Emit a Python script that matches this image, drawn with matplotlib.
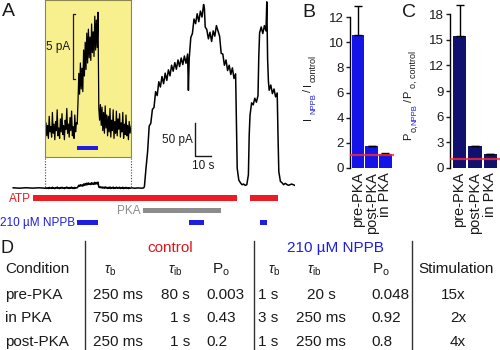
import matplotlib
matplotlib.use('Agg')
import matplotlib.pyplot as plt
import matplotlib.transforms as mtransforms
from matplotlib.patches import Rectangle

plt.rcParams['font.family'] = ['Liberation Sans', 'DejaVu Sans']
plt.rcParams['mathtext.fontset'] = 'custom'
plt.rcParams['mathtext.rm'] = 'Liberation Sans'
plt.rcParams['mathtext.it'] = 'Liberation Sans:italic'
plt.rcParams['mathtext.bf'] = 'Liberation Sans:bold'

# ---------------- data ----------------
# current trace: time (s) and current (pA)
trace_t = [2, 6, 10, 14, 18, 21,
           22.0, 22.5, 23.0, 23.5, 24.0, 24.5, 25.0, 25.5, 26.0, 26.5,
           27.0, 27.5, 28.0, 28.5, 29.0, 29.5, 30.0, 30.5, 31.0, 31.5,
           32.0, 32.5, 33.0, 33.5, 34.0, 34.5, 35.0, 35.5, 36.0, 36.5,
           37.0, 37.5, 38.0, 38.5, 39.0, 39.5, 40.0, 40.5, 41.0, 41.5,
           42.0, 42.5, 43.0, 43.5, 44.0, 44.5, 45.0, 45.5, 46.0, 46.5,
           47.0, 47.5, 48.0, 48.5, 49.0, 49.5, 50.0, 50.5, 51.0, 51.5,
           52.0, 52.5, 53.0, 53.5, 54.0, 54.5, 55.0, 55.5,
           56.0, 56.5, 57.0, 57.5, 58.0, 58.5, 59.0, 59.5, 60.0, 60.5,
           61.0, 61.5, 62.0, 62.5, 63.0, 63.5, 64.0, 64.5, 65.0, 65.5,
           66.0, 66.5, 67.0, 67.5, 68.0, 68.5, 69.0, 69.5, 70.0, 70.5,
           71.0, 71.5, 72.0, 72.5, 73.0, 73.5, 74.0, 74.5, 75.0,
           76, 78, 80, 82, 83.5,
           84, 85, 86, 87, 88, 89, 90, 91, 92, 93, 94, 95, 96, 97, 98, 99,
           100, 101, 102, 103, 104, 105, 106, 107, 108, 109, 110, 111, 111.5,
           112, 113, 114, 115, 116, 117, 118, 119, 120, 121, 121.5,
           122, 123, 124, 125, 126, 127, 128, 129, 130, 131, 132, 133, 134,
           135, 136, 137, 138, 139, 140, 141, 141.5, 142, 143, 144, 145, 146,
           147, 148, 149, 149.5, 150, 151, 152, 153, 154, 155, 155.5,
           156, 157, 158, 159, 160, 160.5, 161, 161.5, 162, 163, 164, 165,
           166, 167, 167.5, 168, 169, 170, 171, 172, 174, 176, 178]
trace_i = [0.3, -0.3, 0.4, -0.2, 0.3, -0.1,
           -0.5, 0.4, -0.6, 0.2, -0.8, 0.9, -0.3, 0.1, -0.7, 1.2,
           -0.4, 0.3, -0.9, 0.5, -0.2, 1.4, -0.6, 0.0, -0.8, 0.7,
           -0.3, 1.1, -0.5, 0.2, -0.9, 0.6, -0.1, 1.5, -0.4, 0.3,
           -0.7, 0.8, -0.2, 1.3, -0.6, 0.1, -0.8, 1.0, -0.3, 0.4,
           0.3, 2.0, 4.2, 2.6, 5.0, 3.0, 4.6, 2.8, 6.0, 4.0,
           6.6, 4.5, 7.3, 5.0, 7.6, 5.4, 7.0, 5.2, 8.0, 5.8,
           7.4, 5.5, 8.6, 6.0, 8.3, 6.2, 8.9, 1.5,
           0.6, 1.8, 0.2, 1.6, -0.2, 1.2, -0.4, 1.7, 0.0, 1.0,
           -0.6, 0.9, -0.3, 1.5, -0.7, 0.6, -0.2, 1.4, -0.8, 0.5,
           -0.4, 1.3, -0.6, 0.7, -0.1, 1.1, -0.7, 0.4, -0.3, 1.2,
           -0.8, 0.3, -0.5, 1.0, -0.6, 0.2, -0.9, 0.5, -0.4,
           0.3, -0.4, 0.2, -0.3, 0.1,
           2, 30, 55, 94, 98, 119, 122, 146, 140, 161, 153, 169, 158, 174, 163, 179,
           170, 186, 177, 190, 180, 194, 184, 197, 187, 200, 189, 203, 148,
           196, 228, 234, 256, 249, 264, 252, 268, 259, 278, 272,
           244, 240, 226, 236, 222, 238, 230, 246, 238, 230, 204, 203, 186,
           194, 178, 186, 172, 182, 166, 173, 100, 30, 12, 8, 5, 6,
           4, 5, 20, 80, 110, 129, 126, 136, 130, 140, 200,
           235, 244, 234, 246, 238, 282, 196, 162, 148, 156, 143, 150,
           138, 144, 80, 25, 10, 8, 5, 7, 4, 6, 4]

# application protocol (s)
atp_on, atp_off = [14.4, 150.0], [141.9, 167.5]
pka_on, pka_off = [83.1], [131.9]
nppb_on, nppb_off = [41.9, 111.9, 156.25], [55.0, 121.25, 160.6]

# bar charts
groups = ['pre-PKA', 'post-PKA', 'in PKA']
i_ratio = [10.6, 1.7, 1.1]
i_err = [2.3, 0.07, 0.04]
po_ratio = [15.5, 2.5, 1.6]
po_err = [3.6, 0.1, 0.06]

# table
conditions = ['pre-PKA', 'in PKA', 'post-PKA']
tau_b_control = ['250 ms', '750 ms', '250 ms']
tau_ib_control = ['80 s', '1 s', '1 s']
po_control = ['0.003', '0.43', '0.2']
tau_b_nppb = ['1 s', '3 s', '1 s']
tau_ib_nppb = ['20 s', '250 ms', '250 ms']
po_nppb = ['0.048', '0.92', '0.8']
stimulation = ['15x', '2x', '4x']

# ---------------- styling ----------------
RED = '#ec1c24'
BLUE = '#1e1ee0'
GRAY = '#8c8c8c'
BAR_B = '#1414e8'
BAR_C = '#10106e'
LINE_RED = '#ff2a2a'
TXT = '#1a1a1a'
W, H = 500, 350

fig = plt.figure(figsize=(5, 3.5), dpi=100)


def box(x0, y0, x1, y1):
    return [x0 / W, 1 - y1 / H, (x1 - x0) / W, (y1 - y0) / H]


# overlay in pixel coordinates
ov = fig.add_axes([0, 0, 1, 1])
ov.set_xlim(0, W)
ov.set_ylim(H, 0)
ov.axis('off')
ov.patch.set_alpha(0)
ov.set_zorder(10)

# ---------------- panel A ----------------
axA = fig.add_axes(box(10, 0, 295, 192))
axA.set_xlim(0, 178.125)
axA.set_ylim(-6.06, 284.85)
axA.axis('off')
axA.plot(trace_t, trace_i, color='black', lw=1.1)

# scale bar 50 pA / 10 s
axA.plot([115.6, 115.6, 125.6], [98.5, 48.5, 48.5], color=TXT, lw=1)
axA.text(114.2, 72, '50 pA', ha='right', va='center', fontsize=8.5, color=TXT)
axA.text(120.6, 29, '10 s', ha='center', va='baseline', fontsize=8.5, color=TXT)

# inset
axI = fig.add_axes(box(45, 0, 131, 157))
axI.set_zorder(2)
axI.set_facecolor('#f8ef8e')
axI.set_xlim(21.875, 75.625)
axI.set_ylim(-2.23, 9.846)
axI.set_xticks([])
axI.set_yticks([])
for s in axI.spines.values():
    s.set_color('#8c8650')
    s.set_linewidth(0.8)
axI.plot(trace_t, trace_i, color='black', lw=0.9)
axI.plot([40.7, 39.4, 39.4, 40.7], [8.75, 8.75, 3.75, 3.75], color=TXT, lw=0.9)
axI.text(37.6, 6.2, '5 pA', ha='right', va='center', fontsize=8.5, color=TXT)
tI = mtransforms.blended_transform_factory(axI.transData, ov.transData)
ov.add_patch(Rectangle((nppb_on[0], 145.5), nppb_off[0] - nppb_on[0], 4.5,
                       transform=tI, color=BLUE, lw=0))

# dotted connectors
for xx in (45, 130.5):
    ov.plot([xx, xx], [158, 188], color='#444444', lw=0.8, ls=(0, (1, 1.5)))

# protocol bars
tA = mtransforms.blended_transform_factory(axA.transData, ov.transData)
for a, b in zip(atp_on, atp_off):
    ov.add_patch(Rectangle((a, 195), b - a, 6, transform=tA, color=RED, lw=0))
for a, b in zip(pka_on, pka_off):
    ov.add_patch(Rectangle((a, 208), b - a, 5, transform=tA, color=GRAY, lw=0))
for a, b in zip(nppb_on, nppb_off):
    ov.add_patch(Rectangle((a, 219.5), b - a, 5, transform=tA, color=BLUE, lw=0))
ov.text(31, 198.5, 'ATP', ha='right', va='center', fontsize=8.5, color=RED)
ov.text(141, 211, 'PKA', ha='right', va='center', fontsize=8.5, color=GRAY)
ov.text(75.5, 223, '210 µM NPPB', ha='right', va='center', fontsize=8.5, color=BLUE)

# ---------------- panels B and C ----------------
def bar_panel(ax, vals, errs, color, width, yl, yt, ytop):
    x = list(range(len(vals)))
    ax.bar(x, vals, width=width, color=color, zorder=2)
    ax.errorbar(x, vals, yerr=[[0] * len(vals), errs], fmt='none', ecolor='black',
                elinewidth=1, capsize=3, capthick=1, zorder=3)
    ax.axhline(1, color=LINE_RED, lw=1.6, alpha=0.8, zorder=4)
    ax.set_ylim(*yl)
    ax.set_yticks(yt)
    for s in ('top', 'right', 'bottom'):
        ax.spines[s].set_visible(False)
    ax.spines['left'].set_bounds(0, ytop)
    ax.spines['left'].set_linewidth(1)
    ax.tick_params(axis='y', direction='out', length=3, width=1, labelsize=9.5,
                   pad=1.5, colors=TXT)
    ax.set_xticks(x)
    ax.set_xticklabels(groups, rotation=90, fontsize=10.5, color=TXT)
    ax.tick_params(axis='x', length=0, pad=3)
    ax.patch.set_alpha(0)


axB = fig.add_axes(box(350, 167.7 - 13.4 * 12.53, 394, 167.7))
axB.set_xlim(-0.584, 2.63)
bar_panel(axB, i_ratio, i_err, BAR_B, 0.92, (0, 13.4), range(0, 13, 2), 12)

axC = fig.add_axes(box(450, 167.7 - 19.6 * 8.52, 500, 167.7))
axC.set_xlim(-0.613, 2.613)
bar_panel(axC, po_ratio, po_err, BAR_C, 0.9, (0, 19.6), range(0, 19, 3), 18)

# rotated y-labels built from pieces (text, baseline x, start y, size, colour)
ylabel_pieces = [
    ('I', 310.5, 120, 8, TXT), ('NPPB', 315.5, 114.5, 5.5, BLUE),
    ('/', 311, 91.5, 8, TXT), ('I', 310.5, 86.5, 8, TXT), ('control', 316, 82, 6.5, TXT),
    ('P', 411.5, 140.5, 8, TXT), ('o,', 416, 132.5, 6.5, TXT), ('NPPB', 416, 125, 5.5, BLUE),
    ('/', 412, 102, 8, TXT), ('P', 411.5, 97.5, 8, TXT), ('o, control', 416, 88.5, 6.5, TXT),
]
for s, x, y, fs, c in ylabel_pieces:
    ov.text(x, y, s, rotation=90, rotation_mode='anchor', ha='left', va='baseline',
            fontsize=fs, color=c)

# panel letters
for s, x, y, fs in [('A', 2, 15.5, 14), ('B', 302, 17.3, 14), ('C', 402, 17.3, 14),
                    ('D', 0.5, 253, 13)]:
    ov.text(x, y, s, fontsize=fs, ha='left', va='baseline', color=TXT)

# ---------------- table D ----------------
for xx in (85, 254, 412):
    ov.plot([xx, xx], [241, 350], color='#333333', lw=1)
ov.text(170, 252.3, 'control', ha='center', va='baseline', fontsize=11, color='#e0141e')
ov.text(335, 252.3, '210 µM NPPB', ha='center', va='baseline', fontsize=11, color=BLUE)

headers = [('Condition', 5, 'left', 11), (r'$\tau_\mathrm{b}$', 110, 'center', 10),
           (r'$\tau_\mathrm{ib}$', 175, 'center', 10), (r'$\mathrm{P}_\mathrm{o}$', 221, 'center', 11),
           (r'$\tau_\mathrm{b}$', 274, 'center', 10), (r'$\tau_\mathrm{ib}$', 314, 'center', 10),
           (r'$\mathrm{P}_\mathrm{o}$', 381, 'center', 11), ('Stimulation', 456, 'center', 11)]
for s, x, ha, fs in headers:
    ov.text(x, 273.3, s, ha=ha, va='baseline', fontsize=fs, color=TXT)

columns = [(conditions, 5, 'left'), (tau_b_control, 118, 'center'),
           (tau_ib_control, 190, 'right'), (po_control, 206, 'left'),
           (tau_b_nppb, 258, 'left'), (tau_ib_nppb, 321, 'center'),
           (po_nppb, 371, 'left'), (stimulation, 466, 'right')]
row_y = [299, 322.3, 345.7]
for col, x, ha in columns:
    for s, y in zip(col, row_y):
        ov.text(x, y, s, ha=ha, va='baseline', fontsize=11, color=TXT)

fig.savefig('out.png', dpi=100)
